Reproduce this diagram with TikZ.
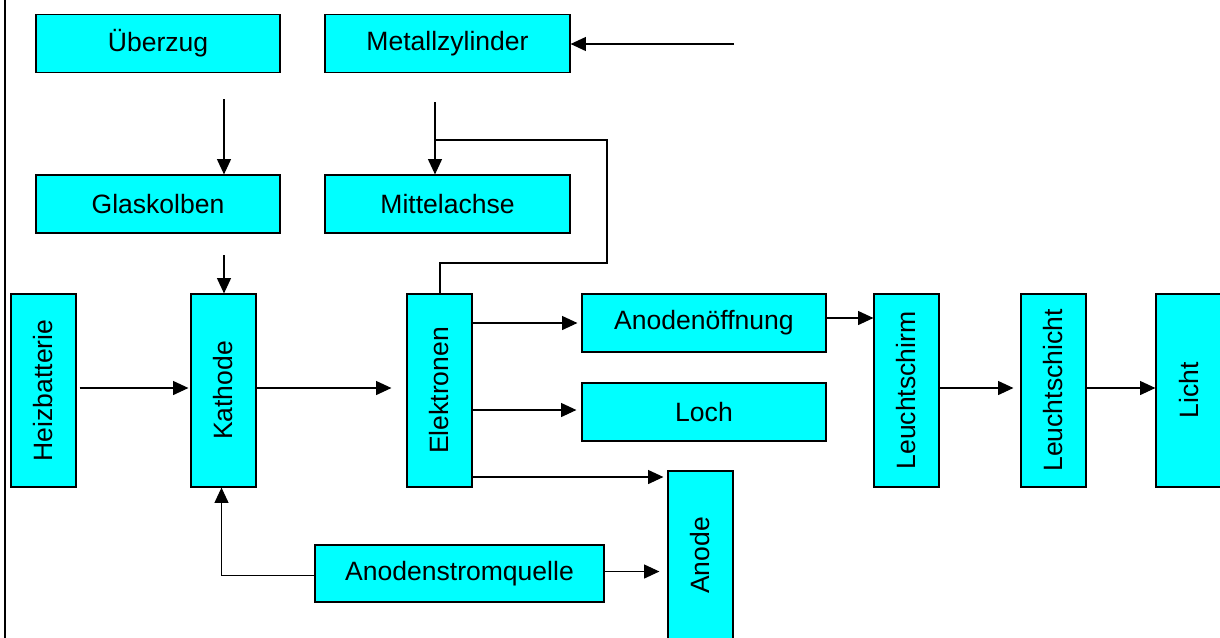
\documentclass[tikz,border=0pt]{standalone}
\usepackage{fontspec}
\usepackage{graphicx}
\setmainfont{Liberation Sans}
\usetikzlibrary{arrows.meta}
\definecolor{boxcyan}{HTML}{00FFFF}
\tikzset{
  box/.style={draw=black, fill=boxcyan, line width=0.9pt, inner sep=0pt,
    font=\fontsize{19.9pt}{24pt}\selectfont, anchor=center},
  hbox/.style={box, minimum width=183pt, minimum height=43.5pt},
  vbox/.style={box, minimum width=48.75pt, minimum height=144.75pt},
  arr/.style={line width=0.9pt, -{Triangle[length=11.5pt,width=10.5pt]}},
  conn/.style={line width=0.9pt}
}
\begin{document}
\begin{tikzpicture}[x=0.75pt,y=-0.75pt]
\useasboundingbox (0,0) rectangle (1220,637);
% frame line
\draw[line width=1.5pt] (4.5,-2) -- (4.5,640);
% horizontal boxes
\node[hbox] (ueber) at (158,43.5) {Überzug};
\node[hbox, minimum width=183.75pt] (metall) at (447.5,43.5) {Metallzylinder};
\node[hbox] (glas) at (158,204) {Glaskolben};
\node[hbox, minimum width=183.75pt] (mitte) at (447.5,204) {Mittelachse};
\node[hbox] (anoff) at (704,323) {Anodenöffnung};
\node[hbox] (loch) at (704,412) {Loch};
\node[hbox, minimum width=216.75pt, minimum height=42.75pt] (aq) at (459.5,573.5) {Anodenstromquelle};
% vertical boxes
\node[vbox] (heiz) at (43.5,390.5) {\rotatebox{90}{Heizbatterie}};
\node[vbox] (kath) at (223.5,390.5) {\rotatebox{90}{Kathode}};
\node[vbox] (elek) at (439.5,390.5) {\rotatebox{90}{Elektronen}};
\node[vbox] (schirm) at (906.5,390.5) {\rotatebox{90}{Leuchtschirm}};
\node[vbox] (schicht) at (1053.5,390.5) {\rotatebox{90}{Leuchtschicht}};
\node[vbox] (licht) at (1188.5,390.5) {\rotatebox{90}{Licht}};
\node[vbox, minimum height=126.75pt] (anode) at (700.5,555.5) {\rotatebox{90}{Anode}};
% free ends
\coordinate (u1) at (224,99);
\coordinate (g1) at (224,255);
\coordinate (m1) at (435,102);
\coordinate (m0) at (734,44);
\coordinate (l1) at (440,263);
\coordinate (l2) at (607,263);
\coordinate (l3) at (607,140);
\coordinate (l4) at (435,140);
\coordinate (e3) at (472,477);
\coordinate (r1) at (0,388);
% connectors
\draw[arr] (u1) -- (glas.north -| u1);
\draw[arr] (g1) -- (kath.north -| g1);
\draw[arr] (m1) -- (mitte.north -| m1);
\draw[arr] (m0) -- (metall.east |- m0);
\draw[conn] (elek.north -| l1) -- (l1) -- (l2) -- (l3) -- (l4);
\draw[arr, shorten <=2.25pt, shorten >=1.5pt] (heiz.east |- r1) -- (kath.west |- r1);
\draw[arr, shorten >=11.25pt] (kath.east |- r1) -- (elek.west |- r1);
\draw[arr, shorten >=3pt] (elek.east |- anoff.west) -- (anoff.west);
\draw[arr, shorten >=3.75pt] ([yshift=1.5pt]elek.east |- loch.west) -- ([yshift=1.5pt]loch.west);
\draw[arr, shorten >=3pt] (e3) -- (anode.west |- e3);
\draw[arr, shorten >=6pt] ([yshift=1.5pt]aq.east) -- ([yshift=1.5pt]aq.east -| anode.west);
\draw[arr] ([yshift=-1.2pt]aq.west) -| ([xshift=-1.5pt]kath.south);
\draw[arr] ([yshift=3.75pt]anoff.east) -- ([yshift=3.75pt]anoff.east -| schirm.west);
\draw[arr, shorten >=5.25pt] (schirm.east |- r1) -- (schicht.west |- r1);
\draw[arr] (schicht.east |- r1) -- (licht.west |- r1);
\end{tikzpicture}
\end{document}
